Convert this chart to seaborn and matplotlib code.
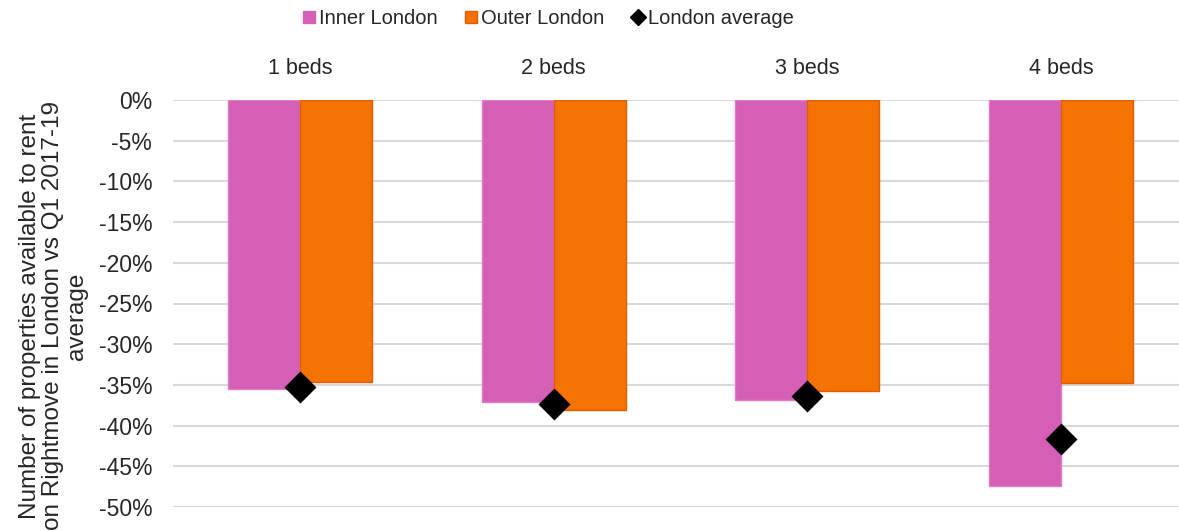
import pandas as pd
import matplotlib
matplotlib.use("Agg")
import matplotlib.pyplot as plt
from matplotlib.lines import Line2D
from matplotlib.ticker import FuncFormatter, MultipleLocator
import seaborn as sns

# Chart values (percent change vs Q1 2017-19 average)
beds = ['1 beds', '2 beds', '3 beds', '4 beds']
inner_london = [-35.5, -37.1, -36.8, -47.4]
outer_london = [-34.7, -38.1, -35.8, -34.8]
london_average = [-35.2, -37.4, -36.4, -41.6]
series_names = ['Inner London', 'Outer London']

PINK = '#D45FB5'
ORANGE = '#F47300'
ORANGE_EDGE = '#E05C00'

# long-form table for seaborn
df = pd.DataFrame({
    'Beds': beds * 2,
    'Change': inner_london + outer_london,
    'Area': [series_names[0]] * len(beds) + [series_names[1]] * len(beds),
})

sns.set_style('white')
plt.rcParams['font.family'] = ['Liberation Sans', 'DejaVu Sans']

fig = plt.figure(figsize=(11.79, 5.31), dpi=100)
ax = fig.add_axes([173 / 1179, 1 - 507 / 531, 1 - 173 / 1179, 407 / 531])

sns.barplot(data=df, x='Beds', y='Change', hue='Area', order=beds,
            hue_order=series_names, palette=[PINK, ORANGE], width=0.568,
            gap=0, ax=ax, legend=False, saturation=1, errorbar=None)

# bar edges like the source
for patch in ax.patches:
    fc = patch.get_facecolor()
    if abs(fc[0] - 0.957) < 0.02:
        patch.set_edgecolor(ORANGE_EDGE)
    else:
        patch.set_edgecolor('#E07CC6')
    patch.set_linewidth(1.0)

sns.pointplot(x=beds, y=london_average, order=beds, color='black',
              markers='D', linestyle='none', markersize=14, ax=ax,
              errorbar=None)

ax.set_ylim(-50, 0)
ax.set_xlim(-0.5, 3.465)
ax.yaxis.set_major_locator(MultipleLocator(5))
ax.yaxis.set_major_formatter(FuncFormatter(lambda v, p: f'{v:.0f}%'))
ax.grid(axis='y', color='#D9D9D9', linewidth=1.5)
ax.set_axisbelow(True)
for s in ax.spines.values():
    s.set_visible(False)

ax.xaxis.tick_top()
ax.tick_params(axis='x', length=0, pad=15, labelsize=15.5)
ax.tick_params(axis='y', length=0, pad=15, labelsize=16.5)
ax.set_xlabel('')
ax.set_ylabel('Number of properties available to rent\non Rightmove in London vs Q1 2017-19\naverage',
              fontsize=17.5, linespacing=1.1)
ax.yaxis.set_label_coords((88 - 173) / 1006, (507 - 316) / 407)

handles = [
    Line2D([], [], marker='s', linestyle='none', color=PINK, markersize=9),
    Line2D([], [], marker='s', linestyle='none', color=ORANGE,
           markeredgecolor=ORANGE_EDGE, markersize=9),
    Line2D([], [], marker='D', linestyle='none', color='black', markersize=8),
]
fig.legend(handles, ['Inner London', 'Outer London', 'London average'],
           loc='center', bbox_to_anchor=(548 / 1179, 1 - 19 / 531), ncol=3,
           frameon=False, fontsize=14.5, handlelength=0.7, handletextpad=0.15,
           columnspacing=1.3)

fig.savefig('out.png', dpi=100)
